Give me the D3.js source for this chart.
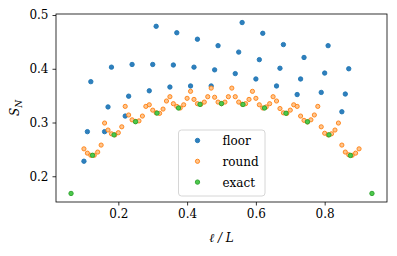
<!DOCTYPE html>
<html>
<head>
<meta charset="utf-8">
<script src="https://cdn.jsdelivr.net/npm/d3@7"></script>
<style>
  body { margin: 0; background: #fff; }
</style>
</head>
<body>
<script>
// floor: x = k/100
const floorK = [10, 11, 12, 16, 17, 18, 22, 23, 24, 29, 30, 31, 35, 36, 37, 41, 42, 43,
                47, 48, 49, 54, 55, 56, 60, 61, 62, 66, 67, 68, 72, 73, 74, 79, 80, 81, 85, 86, 87];
const floorS = [0.228, 0.283, 0.376, 0.283, 0.329, 0.403, 0.312, 0.349, 0.408, 0.359, 0.408, 0.479,
                0.366, 0.407, 0.467, 0.368, 0.403, 0.455, 0.368, 0.398, 0.443, 0.391, 0.431, 0.486,
                0.381, 0.417, 0.466, 0.368, 0.401, 0.445, 0.352, 0.381, 0.421, 0.356, 0.392, 0.443,
                0.320, 0.353, 0.400];

// round: x = k/100, k = 10..90
const roundK = d3.range(10, 91);
const roundS = [0.251, 0.243, 0.239, 0.239, 0.245, 0.258, 0.299, 0.286, 0.279, 0.277,
                0.281, 0.292, 0.330, 0.314, 0.305, 0.302, 0.303, 0.312, 0.330, 0.333,
                0.323, 0.318, 0.317, 0.325, 0.340, 0.348, 0.335, 0.330, 0.327, 0.333,
                0.345, 0.358, 0.343, 0.335, 0.334, 0.338, 0.348, 0.364, 0.347, 0.338,
                0.335, 0.338, 0.348, 0.364, 0.348, 0.338, 0.334, 0.335, 0.343, 0.358,
                0.345, 0.333, 0.327, 0.329, 0.335, 0.348, 0.340, 0.326, 0.318, 0.317,
                0.323, 0.333, 0.330, 0.312, 0.304, 0.301, 0.305, 0.314, 0.330, 0.292,
                0.280, 0.277, 0.279, 0.286, 0.299, 0.258, 0.245, 0.240, 0.239, 0.243, 0.251];

// exact: x = k/16
const exactK = d3.range(1, 16);
const exactS = [0.168, 0.239, 0.277, 0.3015, 0.3175, 0.327, 0.3337, 0.3352,
                0.3335, 0.327, 0.3172, 0.3013, 0.277, 0.2387, 0.168];

const xTicks = [0.2, 0.4, 0.6, 0.8];
const yTicks = [0.2, 0.3, 0.4, 0.5];

const floorData = floorK.map((k, i) => ({x: k / 100, y: floorS[i]}));
const roundData = roundK.map((k, i) => ({x: k / 100, y: roundS[i]}));
const exactData = exactK.map((k, i) => ({x: k / 16, y: exactS[i]}));

const serif = "DejaVu Serif";

const width = 397;
const height = 256;
const margin = {left: 56, right: 10, top: 14, bottom: 54};
const w = width - margin.left - margin.right;
const h = height - margin.top - margin.bottom;

const all = floorData.concat(roundData, exactData);
const pad = (ext) => { const d = (ext[1] - ext[0]) * 0.05; return [ext[0] - d, ext[1] + d]; };

const x = d3.scaleLinear().domain(pad(d3.extent(all, d => d.x))).range([0, w]);
const y = d3.scaleLinear().domain(pad(d3.extent(all, d => d.y))).range([h, 0]);

const svg = d3.select("body").append("svg")
    .attr("width", width)
    .attr("height", height)
    .attr("font-family", serif);

const g = svg.append("g")
    .attr("transform", "translate(" + margin.left + "," + margin.top + ")");

const xAxis = g.append("g")
    .attr("transform", "translate(0," + h + ")")
    .call(d3.axisBottom(x).tickValues(xTicks).tickSize(3.5).tickPadding(4).tickFormat(d3.format(".1f")));

const yAxis = g.append("g")
    .call(d3.axisLeft(y).tickValues(yTicks).tickSize(3.5).tickPadding(4).tickFormat(d3.format(".1f")));

[xAxis, yAxis].forEach(a => {
    a.attr("font-family", serif).attr("font-size", 12);
    a.select(".domain").remove();
    a.selectAll("line").attr("stroke", "#000").attr("stroke-width", 0.8);
    a.selectAll("text").attr("fill", "#000");
});

const series = [
    {name: "floor", data: floorData, fill: "#2f7fbd", stroke: "#1f77b4", r: 2.2},
    {name: "round", data: roundData, fill: "#ffc48c", stroke: "#ff7f0e", r: 2.1},
    {name: "exact", data: exactData, fill: "#4cc94c", stroke: "#2ca02c", r: 2.2}
];

series.forEach(s => {
    g.append("g").selectAll("circle")
        .data(s.data)
        .enter()
        .append("circle")
            .attr("cx", d => x(d.x))
            .attr("cy", d => y(d.y))
            .attr("r", s.r)
            .attr("fill", s.fill)
            .attr("stroke", s.stroke)
            .attr("stroke-width", 0.9);
});

// frame
g.append("rect")
    .attr("width", w)
    .attr("height", h)
    .attr("fill", "none")
    .attr("stroke", "#000")
    .attr("stroke-width", 0.8);

// legend
const leg = g.append("g").attr("transform", "translate(" + (178.5 - margin.left) + "," + (130 - margin.top) + ")");
leg.append("rect")
    .attr("width", 86.5)
    .attr("height", 66)
    .attr("rx", 3)
    .attr("fill", "#fff")
    .attr("fill-opacity", 0.8)
    .attr("stroke", "#d6d6d6")
    .attr("stroke-width", 1);

series.forEach((s, i) => {
    const yy = 10.5 + i * 20.8;
    leg.append("circle")
        .attr("cx", 19)
        .attr("cy", yy)
        .attr("r", s.r)
        .attr("fill", s.fill)
        .attr("stroke", s.stroke)
        .attr("stroke-width", 0.9);
    leg.append("text")
        .attr("x", 44)
        .attr("y", yy + 4.5)
        .attr("font-size", 12)
        .attr("fill", "#000")
        .text(s.name);
});

// axis labels
g.append("text")
    .attr("x", w / 2)
    .attr("y", h + 40)
    .attr("text-anchor", "middle")
    .attr("font-size", 12)
    .attr("font-style", "italic")
    .text("\u2113 / L");

const yl = g.append("text")
    .attr("transform", "translate(-37," + (h / 2) + ") rotate(-90)")
    .attr("text-anchor", "middle")
    .attr("font-size", 12)
    .attr("font-style", "italic");
yl.append("tspan").text("S");
yl.append("tspan").attr("font-size", 9).attr("dy", 3).text("N");
</script>
</body>
</html>
